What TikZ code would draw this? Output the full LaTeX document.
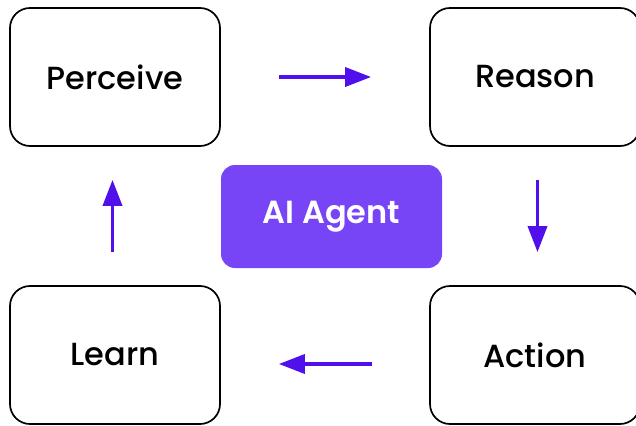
\documentclass[tikz,border=0pt]{standalone}
\usepackage{fontspec}
\setmainfont{Poppins}[UprightFont=* Medium, BoldFont=* SemiBold]
\usetikzlibrary{arrows.meta}
\definecolor{agentfill}{HTML}{7744F6}
\definecolor{flowcol}{HTML}{4F10EC}
\tikzset{
  stagebox/.style={draw=black, line width=1.7pt, rounded corners=20pt,
    minimum width=210pt, minimum height=138pt, font=\fontsize{32}{36}\selectfont},
  agentbox/.style={fill=agentfill, text=white, rounded corners=14pt,
    minimum width=221pt, minimum height=103pt, font=\fontsize{32}{36}\selectfont\bfseries},
  flow/.style={draw=flowcol, line width=3.5pt, -{Triangle[length=26pt,width=19pt]}}
}
\begin{document}
\begin{tikzpicture}[x=1pt,y=-1pt]
      \useasboundingbox (0,0) rectangle (636,425);
      \draw
        (115,77) node[stagebox] (perceive){Perceive}
        (535,77) node[stagebox] (reason){Reason}
        (535,355) node[stagebox] (action){Action}
        (115,355) node[stagebox] (learn){Learn}
        (331.5,216.5) node[agentbox] (agent){AI Agent};
      \begin{scope}[flow]
        \draw[shorten <=58pt, shorten >=58pt] (perceive) to (reason);
        \draw[shorten <=33pt, shorten >=33pt] ([xshift=2.5pt]reason.south) to ([xshift=2.5pt]action.north);
        \draw[shorten <=57pt, shorten >=58pt] ([yshift=-9pt]action.west) to ([yshift=-9pt]learn.east);
        \draw[shorten <=33pt, shorten >=33pt] ([xshift=-2.5pt]learn.north) to ([xshift=-2.5pt]perceive.south);
      \end{scope}
    \end{tikzpicture}
\end{document}
